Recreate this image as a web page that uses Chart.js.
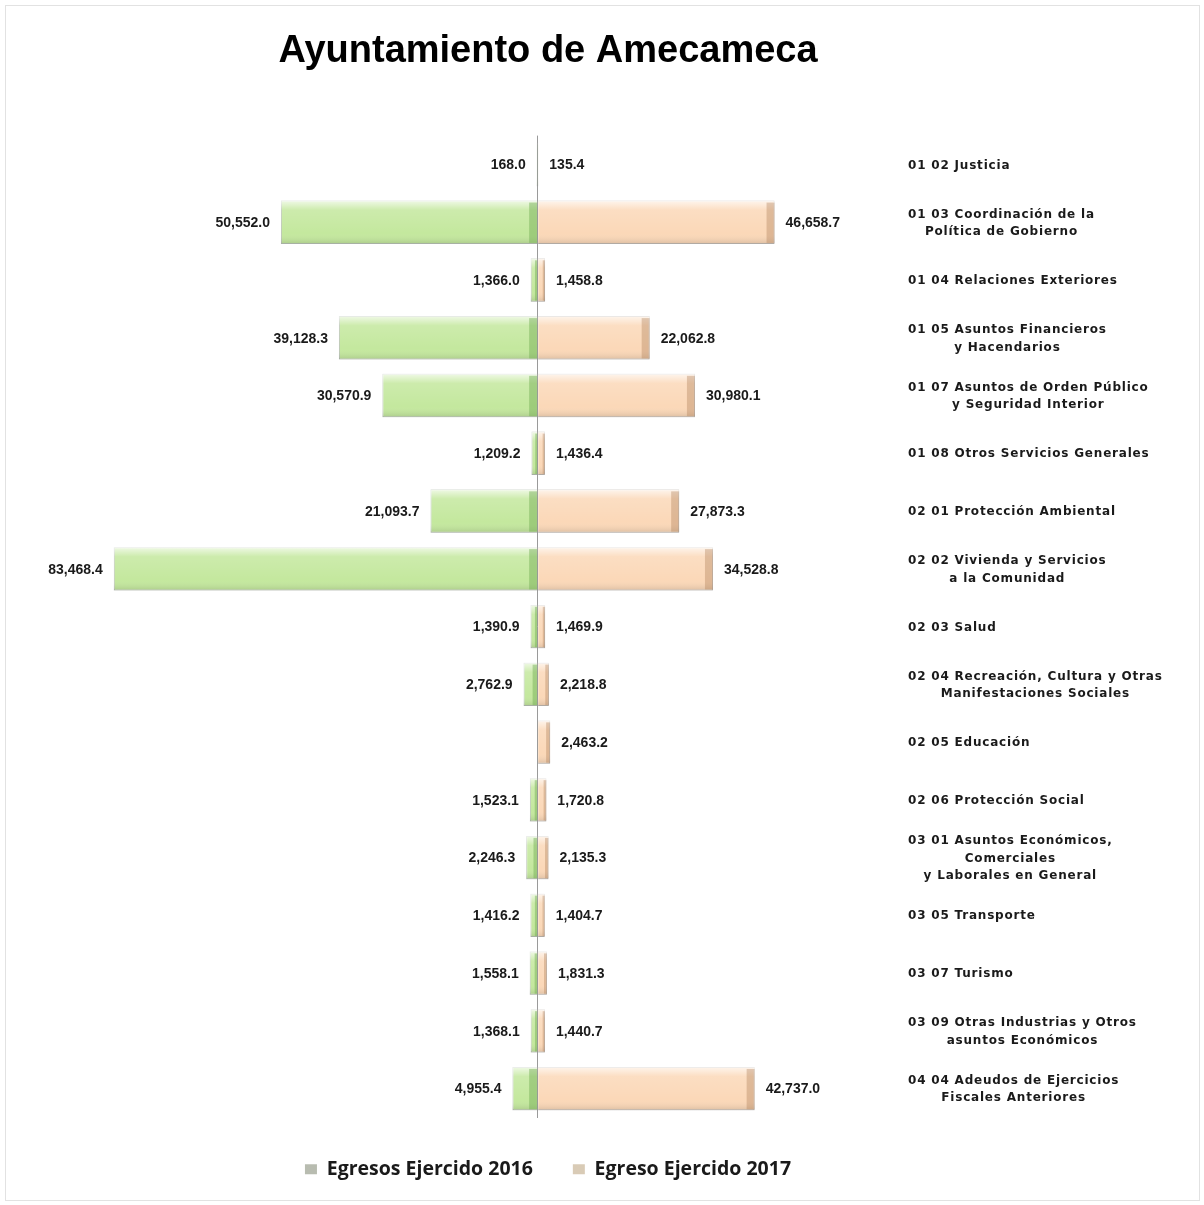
<!DOCTYPE html>
<html>
<head>
<meta charset="utf-8">
<script src="https://cdn.jsdelivr.net/npm/chart.js@4"></script>
<style>
    html, body { margin: 0; padding: 0; background: #fff; }
    #wrap { width: 1204px; height: 1205px; }
</style>
</head>
<body>
<div id="wrap"><canvas id="chart" width="1204" height="1205"></canvas></div>
<script>
// categories (each line of a label is one entry)
const categories = [
    ['01 02 Justicia'],
    ['01 03 Coordinación de la', 'Política de Gobierno'],
    ['01 04 Relaciones Exteriores'],
    ['01 05 Asuntos Financieros', 'y Hacendarios'],
    ['01 07 Asuntos de Orden Público', 'y Seguridad Interior'],
    ['01 08 Otros Servicios Generales'],
    ['02 01 Protección Ambiental'],
    ['02 02 Vivienda y Servicios', 'a la Comunidad'],
    ['02 03 Salud'],
    ['02 04 Recreación, Cultura y Otras', 'Manifestaciones Sociales'],
    ['02 05 Educación'],
    ['02 06 Protección Social'],
    ['03 01 Asuntos Económicos,', 'Comerciales', 'y Laborales en General'],
    ['03 05 Transporte'],
    ['03 07 Turismo'],
    ['03 09 Otras Industrias y Otros', 'asuntos Económicos'],
    ['04 04 Adeudos de Ejercicios', 'Fiscales Anteriores']
];

const egresos2016 = [168.0, 50552.0, 1366.0, 39128.3, 30570.9, 1209.2, 21093.7, 83468.4, 1390.9,
    2762.9, null, 1523.1, 2246.3, 1416.2, 1558.1, 1368.1, 4955.4];
const egresos2017 = [135.4, 46658.7, 1458.8, 22062.8, 30980.1, 1436.4, 27873.3, 34528.8, 1469.9,
    2218.8, 2463.2, 1720.8, 2135.3, 1404.7, 1831.3, 1440.7, 42737.0];

const seriesNames = ['Egresos Ejercido 2016', 'Egreso Ejercido 2017'];
const chartTitle = 'Ayuntamiento de Amecameca';

const fmt = v => v.toLocaleString('en-US', { minimumFractionDigits: 1, maximumFractionDigits: 1 });

// frame + white background
const framePlugin = {
    id: 'frame',
    beforeDraw(chart) {
        const ctx = chart.ctx;
        ctx.save();
        ctx.fillStyle = '#fff';
        ctx.fillRect(0, 0, chart.width, chart.height);
        ctx.strokeStyle = '#e2e2e2';
        ctx.lineWidth = 1;
        ctx.strokeRect(5.5, 5.5, chart.width - 10, chart.height - 10);
        ctx.restore();
    }
};

// gloss / 3d look on the bars
const glossPlugin = {
    id: 'gloss',
    afterDatasetsDraw(chart) {
        const ctx = chart.ctx;
        chart.data.datasets.forEach((ds, di) => {
            const meta = chart.getDatasetMeta(di);
            meta.data.forEach(bar => {
                const p = bar.getProps(['x', 'y', 'base', 'height'], true);
                const left = Math.min(p.x, p.base);
                const w = Math.abs(p.x - p.base);
                if (!w) return;
                const top = p.y - p.height / 2;
                ctx.save();
                const g = ctx.createLinearGradient(0, top, 0, top + p.height);
                g.addColorStop(0, 'rgba(255,255,255,0.75)');
                g.addColorStop(0.22, 'rgba(255,255,255,0.15)');
                g.addColorStop(0.75, 'rgba(255,255,255,0)');
                g.addColorStop(1, 'rgba(0,0,0,0.12)');
                ctx.fillStyle = g;
                ctx.fillRect(left, top, w, p.height);
                // darker cap at the right end
                const cap = Math.min(8, w / 3);
                ctx.fillStyle = di === 0 ? 'rgba(110,170,80,0.45)' : 'rgba(170,120,80,0.35)';
                ctx.fillRect(left + w - cap, top + 2, cap, p.height - 3);
                ctx.restore();
            });
        });
    }
};

// value labels next to the bars
const valueLabels = {
    id: 'valueLabels',
    afterDatasetsDraw(chart) {
        const ctx = chart.ctx;
        ctx.save();
        ctx.font = 'bold 14px "Liberation Sans", Arial, sans-serif';
        ctx.fillStyle = '#1a1a1a';
        ctx.textBaseline = 'middle';
        const raw = [egresos2016, egresos2017];
        chart.data.datasets.forEach((ds, di) => {
            chart.getDatasetMeta(di).data.forEach((bar, i) => {
                const v = raw[di][i];
                if (v == null) return;
                const p = bar.getProps(['x', 'y', 'base'], true);
                if (di === 0) {
                    ctx.textAlign = 'right';
                    ctx.fillText(fmt(v), Math.min(p.x, p.base) - 11, p.y + 1);
                } else {
                    ctx.textAlign = 'left';
                    ctx.fillText(fmt(v), Math.max(p.x, p.base) + 11, p.y + 1);
                }
            });
        });
        ctx.restore();
    }
};

// category names at the right, block left aligned, lines centred
const categoryLabels = {
    id: 'categoryLabels',
    afterDraw(chart) {
        const ctx = chart.ctx;
        const yScale = chart.scales.y;
        const x0 = chart.chartArea.right + 20;
        const lh = 17.5;
        ctx.save();
        ctx.font = 'bold 12px "DejaVu Sans", Verdana, sans-serif';
        if ('letterSpacing' in ctx) ctx.letterSpacing = '0.8px';
        ctx.fillStyle = '#1a1a1a';
        ctx.textBaseline = 'middle';
        ctx.textAlign = 'center';
        categories.forEach((lines, i) => {
            const y = yScale.getPixelForValue(i) + 1;
            const widest = Math.max(...lines.map(l => ctx.measureText(l).width));
            const cx = x0 + widest / 2;
            lines.forEach((l, j) => {
                ctx.fillText(l, cx, y + (j - (lines.length - 1) / 2) * lh);
            });
        });
        ctx.restore();
    }
};

new Chart(document.getElementById('chart'), {
    type: 'bar',
    data: {
        labels: categories,
        datasets: [{
            label: seriesNames[0],
            data: egresos2016.map(v => v == null ? null : -v),
            backgroundColor: '#c4e89e',
            borderColor: 'rgba(130,150,120,0.55)',
            borderWidth: 1,
            barPercentage: 0.75,
            categoryPercentage: 1
        }, {
            label: seriesNames[1],
            data: egresos2017,
            backgroundColor: '#fbd8b8',
            borderColor: 'rgba(150,135,120,0.55)',
            borderWidth: 1,
            barPercentage: 0.75,
            categoryPercentage: 1
        }]
    },
    options: {
        indexAxis: 'y',
        responsive: false,
        animation: false,
        layout: { padding: { left: 40, right: 148, top: 0, bottom: 16 } },
        scales: {
            x: {
                stacked: true,
                min: -98000,
                max: 69000,
                ticks: { display: false },
                border: { display: false },
                grid: {
                    drawTicks: false,
                    color: c => c.tick && c.tick.value === 0 ? '#9a9a9a' : 'transparent'
                },
                afterFit(scale) { scale.height = 2; }
            },
            y: {
                stacked: true,
                position: 'right',
                ticks: { display: false },
                grid: { display: false },
                border: { display: false },
                afterFit(scale) { scale.width = 168; }
            }
        },
        plugins: {
            title: {
                display: true,
                text: chartTitle,
                color: '#000',
                font: { family: '"Liberation Sans", Arial, sans-serif', size: 38, weight: 'bold' },
                padding: { top: 29, bottom: 61 }
            },
            legend: {
                position: 'bottom',
                labels: {
                    color: '#1a1a1a',
                    font: { family: '"Open Sans", sans-serif', size: 19.5, weight: 'bold' },
                    boxWidth: 12,
                    boxHeight: 10,
                    padding: 40,
                    generateLabels(chart) {
                        const cols = ['#b8bcb0', '#d9cbb6'];
                        return chart.data.datasets.map((ds, i) => ({
                            text: ds.label,
                            fillStyle: cols[i],
                            strokeStyle: cols[i],
                            lineWidth: 0,
                            datasetIndex: i,
                            fontColor: '#1a1a1a'
                        }));
                    }
                }
            },
            tooltip: { enabled: false }
        }
    },
    plugins: [framePlugin, glossPlugin, valueLabels, categoryLabels]
});
</script>
</body>
</html>
